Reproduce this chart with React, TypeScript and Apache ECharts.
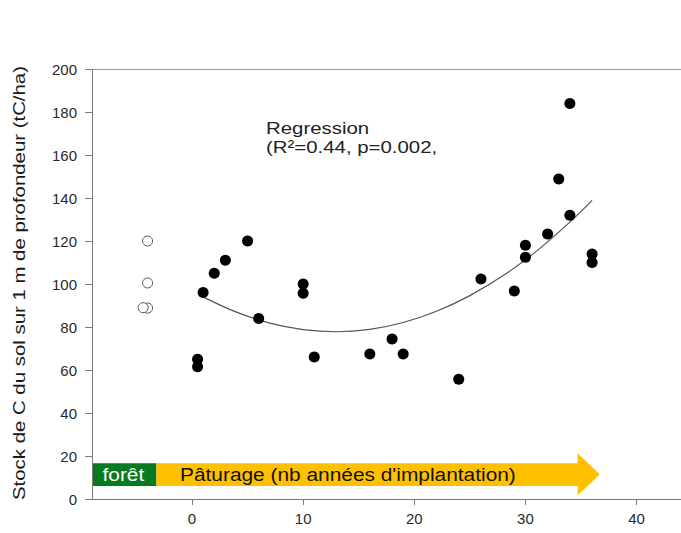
import React, { useEffect, useRef } from "react";
import * as echarts from "echarts";

// Forest (reference) plots, open circles
const forestX = [-4, -4, -4, -4.4];
const forestY = [120, 100.5, 88.8, 89];

// Pasture plots: years since establishment vs soil C stock
const pastureX = [0.5, 0.5, 1, 2, 3, 5, 6, 10, 10, 11, 16, 18, 19, 24, 26, 29, 30, 30, 32, 33, 34, 34, 36, 36];
const pastureY = [65, 61.5, 96, 105, 111, 120, 84, 100, 95.7, 66, 67.4, 74.4, 67.4, 55.7, 102.3, 96.7, 118, 112.4, 123.3, 148.8, 132, 184, 114, 110];

// Regression curve
const regX = [1, 4, 7, 10, 13, 16, 19, 22, 25, 28, 31, 34, 36];
const regY = [94.0, 86.9, 81.8, 78.8, 77.8, 78.9, 82.1, 87.3, 94.6, 103.9, 115.3, 128.8, 138.9];

const xTicks = [0, 10, 20, 30, 40];

const yTitle = "Stock de C du sol sur 1 m de profondeur (tC/ha)";
const regLine1 = "Regression";
const regLine2 = "(R²=0.44, p=0.002,";
const forestLabel = "forêt";
const pastureLabel = "Pâturage (nb années d'implantation)";

const FONT = "Liberation Sans, Arial, sans-serif";

export default function App() {
  const ref = useRef<HTMLDivElement>(null);

  useEffect(() => {
    if (!ref.current) return;
    const chart = echarts.init(ref.current, null, { renderer: "svg" });
    const axisColor = "#7a7a7a";
    chart.setOption({
      animation: false,
      backgroundColor: "#ffffff",
      textStyle: { fontFamily: FONT },
      grid: { left: 92, right: 0, top: 69, bottom: 34, containLabel: false },
      xAxis: [
        {
          type: "value",
          min: -9,
          max: 44,
          position: "bottom",
          axisLine: { show: true, onZero: false, lineStyle: { color: axisColor, width: 1 } },
          axisTick: { show: true, inside: false, length: 6, customValues: xTicks, lineStyle: { color: axisColor } },
          axisLabel: { show: true, customValues: xTicks, margin: 12, fontSize: 15, color: "#2a2a2a", fontFamily: FONT },
          splitLine: { show: false },
        },
        {
          type: "value",
          min: -9,
          max: 44,
          position: "top",
          axisLine: { show: true, onZero: false, lineStyle: { color: "#999", width: 1 } },
          axisTick: { show: false },
          axisLabel: { show: false },
          splitLine: { show: false },
        },
      ],
      yAxis: {
        type: "value",
        min: 0,
        max: 200,
        interval: 20,
        position: "left",
        axisLine: { show: true, onZero: false, lineStyle: { color: axisColor, width: 1 } },
        axisTick: { show: true, inside: false, length: 7, lineStyle: { color: axisColor } },
        axisLabel: { margin: 15, fontSize: 15, color: "#2a2a2a", fontFamily: FONT },
        splitLine: { show: false },
      },
      series: [
        {
          type: "scatter",
          xAxisIndex: 0,
          data: pastureX.map((x, i) => [x, pastureY[i]]),
          symbol: "circle",
          symbolSize: 11,
          itemStyle: { color: "#000", opacity: 1 },
          z: 5,
        },
        {
          type: "scatter",
          xAxisIndex: 0,
          data: forestX.map((x, i) => [x, forestY[i]]),
          symbol: "circle",
          symbolSize: 10,
          itemStyle: { color: "#fff", borderColor: "#555", borderWidth: 1, opacity: 1 },
          z: 5,
        },
        {
          type: "line",
          xAxisIndex: 0,
          data: regX.map((x, i) => [x, regY[i]]),
          smooth: 0.4,
          showSymbol: false,
          symbol: "none",
          lineStyle: { color: "#555", width: 1.2 },
          z: 3,
        },
      ],
    });

    const p = (x: number, y: number) => chart.convertToPixel({ seriesIndex: 0 }, [x, y]) as number[];
    const bodyTop = 16.6, bodyBot = 6.05, headTop = 21.3, headBot = 1.8, tipY = 11.4;
    const gStart = -9, gEnd = -3.2, headBase = 34.7, tipX = 36.7;
    const g0 = p(gStart, bodyTop);
    const g1 = p(gEnd, bodyBot);

    chart.setOption({
      graphic: [
        {
          type: "rect",
          shape: { x: g0[0] + 1, y: g0[1], width: g1[0] - g0[0] - 1, height: g1[1] - g0[1] },
          style: { fill: "#077a1f" },
          z: 10,
        },
        {
          type: "polygon",
          shape: {
            points: [
              p(gEnd, bodyTop),
              p(headBase, bodyTop),
              p(headBase, headTop),
              p(tipX, tipY),
              p(headBase, headBot),
              p(headBase, bodyBot),
              p(gEnd, bodyBot),
            ],
          },
          style: { fill: "#ffc000" },
          z: 10,
        },
        {
          type: "text",
          x: 102.5,
          y: 475,
          scaleX: 1.16,
          style: { text: forestLabel, fill: "#fff", font: `18px ${FONT}`, textAlign: "left", textVerticalAlign: "middle" },
          z: 11,
        },
        {
          type: "text",
          x: 180,
          y: 475,
          scaleX: 1.16,
          style: { text: pastureLabel, fill: "#111", font: `18px ${FONT}`, textAlign: "left", textVerticalAlign: "middle" },
          z: 11,
        },
        {
          type: "text",
          x: 266,
          y: 128.5,
          scaleX: 1.2,
          style: { text: regLine1, fill: "#222", font: `17px ${FONT}`, textAlign: "left", textVerticalAlign: "middle" },
          z: 11,
        },
        {
          type: "text",
          x: 266,
          y: 147.5,
          scaleX: 1.2,
          style: { text: regLine2, fill: "#222", font: `17px ${FONT}`, textAlign: "left", textVerticalAlign: "middle" },
          z: 11,
        },
        {
          type: "text",
          x: 19,
          y: 283,
          rotation: Math.PI / 2,
          scaleX: 1.2,
          style: { text: yTitle, fill: "#1a1a1a", font: `17px ${FONT}`, textAlign: "center", textVerticalAlign: "middle" },
          z: 11,
        },
      ],
    });

    return () => chart.dispose();
  }, []);

  return (
    <div
      ref={ref}
      style={{ position: "fixed", left: 0, top: 0, width: 681, height: 533, background: "#fff" }}
    />
  );
}
